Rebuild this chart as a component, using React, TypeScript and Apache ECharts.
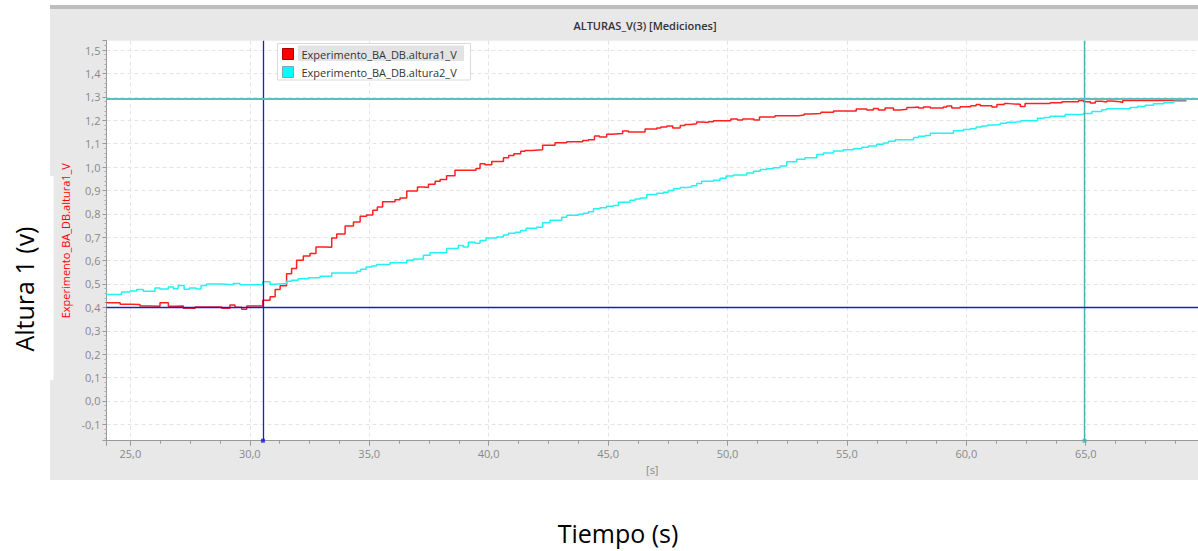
import React, { useEffect, useRef } from 'react';
import * as echarts from 'echarts';

const TITLE = 'ALTURAS_V(3) [Mediciones]';
const SERIES_NAMES = ['Experimento_BA_DB.altura1_V', 'Experimento_BA_DB.altura2_V'];
const Y_NAME = 'Experimento_BA_DB.altura1_V';
const X_NAME = '[s]';
const OUTER_Y = 'Altura 1 (v)';
const OUTER_X = 'Tiempo (s)';

const X_MIN = 24.0;
const X_MAX = 69.7;
const Y_MIN = -0.17;
const Y_MAX = 1.54;

// altura1 (red) step samples: time [s], value [V]
const altura1T = [
  24.0, 24.57, 24.98, 25.4, 25.82, 26.24, 26.59, 26.8, 27.22, 27.71, 28.82, 29.17, 29.38, 29.66, 29.87,
  30.54, 30.85, 31.06, 31.27, 31.54, 31.75, 31.96, 32.24, 32.52, 32.77, 33.15, 33.43, 33.64, 33.99, 34.34,
  34.62, 34.89, 35.15, 35.34, 35.56, 36.08, 36.29, 36.57, 37.02, 37.27, 37.48, 37.76, 37.97, 38.24, 38.59,
  39.47, 39.64, 39.85, 40.13, 40.62, 40.84, 41.06, 41.34, 41.52, 41.8, 42.26, 42.78, 43.27, 43.94, 44.18,
  44.43, 44.64, 44.94, 45.15, 45.61, 45.85, 46.55, 47.04, 47.21, 47.46, 47.71, 48.02, 48.22, 48.46, 48.71,
  48.92, 49.2, 49.41, 50.14, 50.42, 50.64, 51.11, 51.34, 51.99, 52.97, 53.21, 53.46, 53.91, 54.44, 55.39,
  55.83, 56.11, 56.32, 56.6, 56.95, 57.23, 57.51, 57.79, 58.0, 58.21, 58.49, 59.04, 59.18, 59.39, 59.74,
  60.19, 60.41, 60.58, 61.07, 61.28, 61.59, 61.77, 62.26, 62.46, 63.51, 64.0, 64.7, 64.91, 65.19, 65.4,
  65.67, 65.88, 66.09, 66.44, 66.55, 69.21,
];
const altura1V = [
  0.42, 0.413, 0.412, 0.406, 0.405, 0.42, 0.405, 0.406, 0.396, 0.402, 0.396, 0.41, 0.4, 0.392, 0.406,
  0.43, 0.445, 0.476, 0.492, 0.544, 0.566, 0.601, 0.62, 0.63, 0.658, 0.657, 0.697, 0.714, 0.748, 0.765,
  0.789, 0.795, 0.815, 0.829, 0.851, 0.86, 0.868, 0.898, 0.915, 0.912, 0.926, 0.939, 0.947, 0.963, 0.986,
  0.994, 1.014, 1.01, 1.024, 1.04, 1.049, 1.057, 1.067, 1.071, 1.074, 1.093, 1.104, 1.108, 1.113, 1.117,
  1.133, 1.128, 1.14, 1.143, 1.154, 1.15, 1.163, 1.167, 1.171, 1.175, 1.167, 1.178, 1.182, 1.185, 1.192,
  1.19, 1.194, 1.198, 1.205, 1.201, 1.205, 1.201, 1.214, 1.219, 1.222, 1.227, 1.229, 1.234, 1.239, 1.248,
  1.244, 1.25, 1.244, 1.252, 1.244, 1.247, 1.254, 1.257, 1.252, 1.257, 1.252, 1.257, 1.261, 1.252, 1.258,
  1.262, 1.267, 1.262, 1.257, 1.267, 1.271, 1.268, 1.259, 1.271, 1.275, 1.279, 1.284, 1.279, 1.274, 1.281,
  1.278, 1.282, 1.279, 1.276, 1.284, 1.284,
];

// altura2 (cyan) step samples
const altura2T = [
  24.0, 24.63, 24.98, 25.26, 25.54, 26.03, 26.24, 26.59, 26.8, 27.0, 27.25, 27.47, 27.75, 27.96, 28.19,
  28.82, 29.31, 29.59, 30.54, 30.85, 31.06, 31.54, 31.75, 32.03, 32.45, 32.94, 33.43, 34.48, 34.64, 34.87,
  35.1, 35.31, 35.87, 36.57, 36.85, 37.27, 37.55, 38.24, 38.73, 38.94, 39.15, 39.43, 39.64, 39.89, 40.34,
  40.62, 40.83, 41.11, 41.34, 41.57, 42.01, 42.26, 42.57, 43.06, 43.27, 43.76, 43.97, 44.18, 44.39, 44.66,
  44.94, 45.22, 45.43, 45.92, 46.13, 46.34, 46.62, 47.04, 47.32, 47.53, 47.74, 48.02, 48.29, 48.5, 48.71,
  48.92, 49.41, 49.69, 49.94, 50.25, 50.81, 51.09, 51.37, 51.64, 51.92, 52.2, 52.48, 52.9, 53.25, 53.74,
  54.02, 54.44, 54.85, 55.27, 55.62, 55.9, 56.25, 56.53, 56.74, 57.02, 57.79, 58.0, 58.28, 58.49, 59.46,
  59.88, 60.16, 60.41, 60.65, 60.89, 61.14, 61.42, 61.7, 61.98, 62.28, 62.98, 63.26, 63.51, 64.14, 64.91,
  65.26, 65.67, 65.88, 66.86, 67.17, 67.49, 67.84, 68.26, 68.68, 69.21,
];
const altura2V = [
  0.455, 0.466, 0.47, 0.476, 0.469, 0.483, 0.479, 0.487, 0.48, 0.493, 0.477, 0.483, 0.479, 0.494, 0.5,
  0.497, 0.502, 0.497, 0.509, 0.499, 0.502, 0.512, 0.516, 0.522, 0.527, 0.533, 0.547, 0.554, 0.563, 0.573,
  0.577, 0.583, 0.591, 0.601, 0.607, 0.623, 0.634, 0.652, 0.664, 0.658, 0.678, 0.674, 0.686, 0.697, 0.701,
  0.709, 0.717, 0.721, 0.729, 0.738, 0.742, 0.762, 0.772, 0.785, 0.794, 0.798, 0.802, 0.809, 0.822, 0.826,
  0.832, 0.836, 0.849, 0.858, 0.863, 0.868, 0.883, 0.888, 0.892, 0.9, 0.907, 0.912, 0.915, 0.92, 0.929,
  0.939, 0.943, 0.952, 0.962, 0.966, 0.974, 0.982, 0.989, 0.993, 0.997, 1.004, 1.022, 1.033, 1.04, 1.054,
  1.06, 1.068, 1.074, 1.078, 1.084, 1.09, 1.097, 1.103, 1.11, 1.117, 1.126, 1.131, 1.135, 1.144, 1.155,
  1.16, 1.164, 1.171, 1.175, 1.18, 1.182, 1.187, 1.191, 1.194, 1.198, 1.208, 1.212, 1.217, 1.225, 1.229,
  1.237, 1.245, 1.249, 1.254, 1.259, 1.264, 1.27, 1.275, 1.281, 1.281,
];

// cursors
const cursorX = [30.55, 64.95];
const cursorY = [0.402, 1.287];

const FONT = 'Open Sans';
const BLUE = '#1c1cd8';
const TEAL = '#45b3b3';

const fmt = (v: number) => {
  const x = Math.abs(v) < 1e-9 ? 0 : v;
  return x.toFixed(1).replace('.', ',');
};

export default function App() {
  const ref = useRef<HTMLDivElement>(null);
  useEffect(() => {
    if (!ref.current) return;
    const chart = echarts.init(ref.current, undefined, { renderer: 'svg' });
    const option: any = {
      animation: false,
      backgroundColor: '#ffffff',
      title: {
        text: TITLE,
        left: 645,
        top: 20,
        textAlign: 'center',
        padding: 0,
        textStyle: { fontFamily: FONT, fontSize: 11, fontWeight: 600, color: '#333333' },
      },
      legend: {
        orient: 'vertical',
        left: 282,
        top: 48,
        padding: 0,
        itemWidth: 11,
        itemHeight: 11,
        itemGap: 6,
        icon: 'rect',
        selectedMode: false,
        z: 20,
        textStyle: { fontFamily: FONT, fontSize: 11, color: '#333333', padding: [0, 0, 0, 3] },
        data: [
          { name: SERIES_NAMES[0], itemStyle: { color: '#ff0000', borderColor: '#b00000', borderWidth: 1 } },
          { name: SERIES_NAMES[1], itemStyle: { color: '#00ffff', borderColor: '#7aa', borderWidth: 1 } },
        ],
      },
      graphic: [
        { type: 'rect', z: -10, shape: { x: 50, y: 5, width: 1148, height: 475 }, style: { fill: '#e8e8e8' } },
        { type: 'rect', z: -9, shape: { x: 50, y: 5, width: 1148, height: 4 }, style: { fill: '#bdbdbd' } },
        { type: 'rect', z: -8, shape: { x: 0, y: 176, width: 53.5, height: 204 }, style: { fill: '#ffffff' } },
        { type: 'rect', z: 10, shape: { x: 277.5, y: 43.5, width: 193, height: 36.5 }, style: { fill: '#ffffff', stroke: '#dadada', lineWidth: 1 } },
        { type: 'rect', z: 11, shape: { x: 298, y: 45.5, width: 166, height: 15.5 }, style: { fill: '#e3e3e3' } },
        {
          type: 'text', z: 10, x: 23.5, y: 289, rotation: Math.PI / 2,
          style: { text: OUTER_Y, fontFamily: FONT, fontSize: 25, fill: '#000000', align: 'center', verticalAlign: 'middle' },
        },
        {
          type: 'text', z: 10, x: 618, y: 533,
          style: { text: OUTER_X, fontFamily: FONT, fontSize: 25, fill: '#000000', align: 'center', verticalAlign: 'middle' },
        },
      ],
      grid: {
        left: 106.5, right: 0, top: 40.7, bottom: 110.3,
        show: true, backgroundColor: '#ffffff', borderWidth: 0,
      },
      xAxis: {
        type: 'value', min: X_MIN, max: X_MAX, minInterval: 5, maxInterval: 5,
        name: X_NAME, nameLocation: 'middle', nameGap: 23,
        nameTextStyle: { color: '#888888', fontSize: 11, fontFamily: FONT },
        axisLine: { show: true, onZero: false, lineStyle: { color: '#999999' } },
        axisTick: { show: true, length: 5, lineStyle: { color: '#999999' } },
        minorTick: { show: true, splitNumber: 4, length: 3, lineStyle: { color: '#999999' } },
        axisLabel: { margin: 7, formatter: fmt, color: '#888888', fontSize: 11, fontFamily: FONT, showMinLabel: false, showMaxLabel: false },
        splitLine: { show: true, showMinLine: false, showMaxLine: false, lineStyle: { color: '#e4e4e4', type: [4, 3] } },
      },
      yAxis: {
        type: 'value', min: Y_MIN, max: Y_MAX, minInterval: 0.1, maxInterval: 0.1,
        name: Y_NAME, nameLocation: 'middle', nameGap: 34, nameRotate: 90,
        nameTextStyle: { color: '#ff0000', fontSize: 11, fontFamily: FONT },
        axisLine: { show: true, onZero: false, lineStyle: { color: '#999999' } },
        axisTick: { show: true, length: 4, lineStyle: { color: '#999999' } },
        minorTick: { show: true, splitNumber: 5, length: 2, lineStyle: { color: '#aaaaaa' } },
        axisLabel: { margin: 6, formatter: fmt, color: '#888888', fontSize: 11, fontFamily: FONT, showMinLabel: false, showMaxLabel: false },
        splitLine: { show: true, showMinLine: false, showMaxLine: false, lineStyle: { color: '#e4e4e4', type: [4, 3] } },
      },
      series: [
        {
          name: SERIES_NAMES[0], type: 'line', step: 'end', symbol: 'none', z: 3,
          data: altura1T.map((t, i) => [t, altura1V[i]]),
          lineStyle: { color: '#ff2020', width: 1.5 },
          itemStyle: { color: '#ff0000' },
          markLine: {
            silent: true, symbol: ['none', 'none'], label: { show: false }, animation: false,
            data: [
              { xAxis: cursorX[0], lineStyle: { color: BLUE, width: 1.3, type: 'solid', opacity: 1 } },
              { xAxis: cursorX[1], lineStyle: { color: TEAL, width: 1.4, type: 'solid', opacity: 1 } },
              { yAxis: cursorY[0], lineStyle: { color: BLUE, width: 1.3, type: 'solid', opacity: 1 } },
              { yAxis: cursorY[1], lineStyle: { color: '#5cbebe', width: 2, type: 'solid', opacity: 1 } },
            ],
          },
        },
        {
          name: SERIES_NAMES[1], type: 'line', step: 'end', symbol: 'none', z: 4,
          data: altura2T.map((t, i) => [t, altura2V[i]]),
          lineStyle: { color: '#22f2f2', width: 1.5 },
          itemStyle: { color: '#00ffff' },
        },
        {
          name: 'cursors', type: 'scatter', symbol: 'rect', symbolSize: 4, clip: false, z: 6, silent: true,
          data: [
            { value: [cursorX[0], Y_MIN], itemStyle: { color: BLUE } },
            { value: [cursorX[1], Y_MIN], itemStyle: { color: TEAL } },
          ],
        },
      ],
    };
    chart.setOption(option);
    return () => chart.dispose();
  }, []);
  return (
    <div style={{ position: 'fixed', left: 0, top: 0, width: 1198, height: 551, background: '#fff' }}>
      <div ref={ref} style={{ width: 1198, height: 551 }} />
    </div>
  );
}
